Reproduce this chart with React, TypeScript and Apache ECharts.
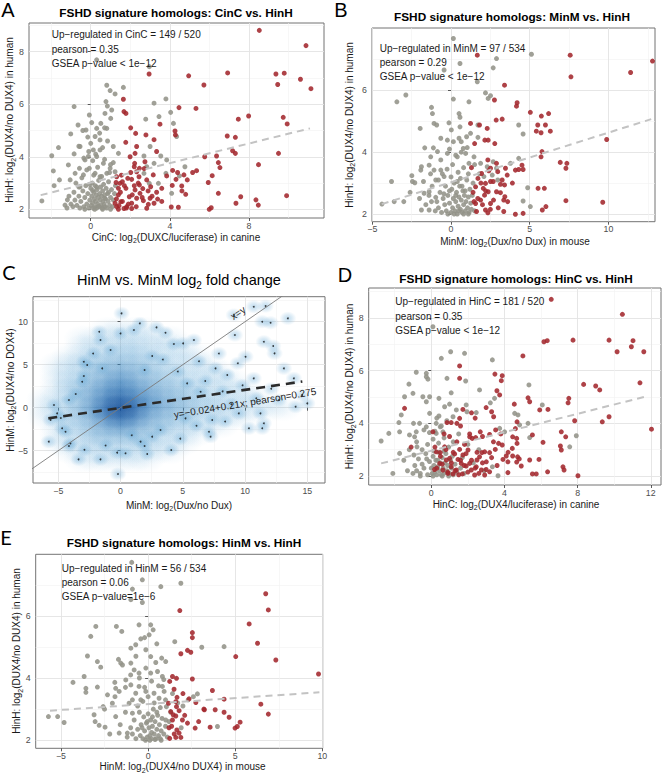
import React, { useEffect, useRef } from 'react';
import * as echarts from 'echarts';

// ---------------- Panel A: CinC vs HinH ----------------
const aGray: number[][] = [
  [-2.47,2.32],[-1.97,4.04],[-1.89,3.46],[-1.63,4.35],[-1.85,2.9],[-1.58,3.12],[-1.3,2.16],[-1.18,2.36],[-0.84,5.91],[-1.01,4.87],
  [-0.64,5.21],[-0.54,4.39],[-0.84,4.11],[-1.13,3.69],[-0.79,3.37],[-1.04,3.12],[-0.54,2.86],[-0.57,3.56],[-0.29,3.88],[-0.24,5.02],
  [-0.07,5.59],[0,4.51],[0.3,5.08],[0.47,4.64],[0.47,4.26],[0.51,5.27],[0.81,6.72],[1.23,6.39],[1.65,6.64],[0.98,6.52],[0.3,7.69],
  [0.77,6.1],[0.84,5.93],[1.06,5.78],[1.01,5.46],[0.72,5.65],[0.81,5.08],[0.22,4.77],[0.13,4.26],[-0.12,4.01],[0.3,4.01],[1.14,4.39],
  [1.4,4.13],[1.14,3.78],[0.64,3.75],[0.98,3.56],[-0.37,3.31],[-0.07,3.56],[0.22,3.37],[0.47,3.24],[0.81,3.37],[1.23,3.43],[3.8,6.2],
  [4.04,5.69],[4.18,5.27],[4.34,4.77],[3.45,5.53],[3.2,6.04],[3.0,4.39],[2.69,4.03],[3.54,4.03],[3.2,3.75],[3.84,3.88],[4.76,3.62],
  [4.48,3.27],[3.8,3.37],[3.42,2.99],[4.09,2.61],[2.96,2.99],[2.83,3.62],[2.69,3.37],[2.78,5.43],[2.96,7.43],
  [-1.2,2.05],[-1.0,2.2],[-0.9,2.1],[-0.8,2.35],[-0.7,2.15],[-0.6,2.5],[-0.55,2.05],[-0.5,2.3],[-0.4,2.7],[-0.35,2.1],[-0.3,2.45],
  [-0.25,2.9],[-0.2,2.2],[-0.15,2.6],[-0.1,2.05],[-0.05,2.35],[0,2.8],[0.02,2.15],[0.05,2.5],[0.08,3.0],[0.1,2.25],[0.12,2.05],
  [0.15,2.65],[0.18,2.4],[0.2,2.1],[0.22,2.9],[0.25,2.3],[0.28,2.55],[0.3,2.05],[0.32,2.75],[0.35,2.2],[0.38,2.45],[0.4,3.1],
  [0.42,2.1],[0.45,2.6],[0.48,2.35],[0.5,2.85],[0.52,2.15],[0.55,2.5],[0.58,2.05],[0.6,2.7],[0.62,2.3],[0.65,2.95],[0.68,2.2],
  [0.7,2.55],[0.72,2.1],[0.75,2.4],[0.78,2.8],[0.8,2.05],[0.85,2.6],[0.88,2.3],[0.9,3.05],[0.95,2.15],[1.0,2.45],[1.05,2.75],
  [1.1,2.1],[1.15,2.35],[1.2,2.6],[1.25,2.9],[-0.45,3.2],[-0.6,2.85],[-0.85,2.65],[-1.1,2.5],[-0.75,3.0],[0.15,3.3],[0.55,3.25],
  [0.95,3.4],[-0.2,3.5],[0.35,3.6],[0.7,3.9],[-0.1,4.2],[0.1,3.85],[0.6,4.35],[-0.35,3.95],[1.0,3.7],[0.25,4.1],[-0.6,4.4],
  [0.85,4.6],[0.45,4.9],[-0.15,4.75],[0.05,5.3],[0.7,5.1],[-0.4,5.0],[0.2,2.0],[0.6,2.0],[-0.3,2.0],[1.0,2.0],[0.4,2.12],
  [0.7,2.42],[0.1,2.72],[-0.05,2.95],[0.9,2.65],[0.3,2.85]
];
const aRed: number[][] = [
  [8.52,8.81],[10.88,8.23],[6.92,7.19],[4.95,7.08],[2.95,7.15],[5.72,6.73],[9.36,7.15],[9.78,7.18],[10.6,6.95],[11.13,6.59],
  [9.45,6.75],[1.65,6.19],[1.68,5.72],[1.78,5.65],[4.46,5.87],[5.32,5.84],[7.98,5.55],[7.46,5.43],[9.73,5.5],[9.93,5.25],
  [2.02,5.1],[3.5,5.24],[2.27,4.89],[2.79,4.83],[4.26,4.98],[4.28,4.83],[1.77,4.55],[3.2,4.65],[6.9,4.79],[7.31,4.74],
  [3.33,4.2],[2.32,4.39],[7.17,4.23],[7.31,4.13],[9.49,4.13],[5.76,4.0],[6.36,4.03],[1.99,4.0],[6.45,3.78],[2.22,3.75],
  [2.2,3.62],[2.74,3.81],[2.46,3.56],[8.48,3.7],[6.53,3.59],[4.14,3.48],[5.35,3.47],[5.15,3.4],[4.39,3.4],[1.31,3.24],
  [2.02,3.4],[1.28,3.02],[1.48,2.99],[2.07,3.14],[2.44,3.24],[2.83,3.12],[3.16,3.31],[3.84,3.27],[4.31,3.14],[4.71,3.31],
  [4.88,3.12],[5.94,3.02],[6.14,3.28],[4.12,2.91],[4.6,2.89],[4.61,2.7],[4.8,2.57],[3.59,2.8],[2.63,2.79],[3.33,2.65],
  [6.45,2.61],[7.58,2.48],[9.9,2.52],[6.09,2.06],[5.99,2.0],[7.34,2.23],[8.35,2.36],[8.47,2.16],[4.07,2.09],[4.43,2.08],
  [3.38,2.39],[3.59,2.3],[2.66,2.33],[2.91,2.19],[2.32,2.42],[2.07,2.23],[1.82,2.1],[1.52,2.29],[1.43,2.14],[1.68,2.03],
  [1.95,2.48],[2.24,2.74],[2.49,2.61],[1.4,2.55],[1.78,2.8],[2.46,2.93],[3.0,2.42],[3.2,2.23],[1.4,2.8],[1.6,3.05],
  [1.87,3.18],[2.24,4.13],[2.32,3.43],[3.03,2.86],[2.07,2.03],[2.83,2.04],[1.23,2.23],[1.31,2.1],
  [1.3,2.4],[1.5,2.65],[1.6,2.3],[1.7,2.9],[1.9,2.2],[2.1,2.55],[2.3,2.1],[2.6,2.45],[2.4,3.0],[2.9,2.7],[1.4,2.0],
  [1.8,2.05],[2.2,2.9],[3.1,2.5],[1.55,3.3],[2.7,3.55]
];
const aFit: number[][] = [[-2.53, 2.54], [11.08, 5.08]];
const aXTicks = [0, 4, 8];
const aXMinor = [-2, 2, 6, 10];
const aYTicks = [2, 4, 6, 8];
const aYMinor = [3, 5, 7, 9];
const aNotes = ['Up\u2212regulated in CinC = 149 / 520', 'pearson = 0.35', 'GSEA p\u2212value < 1e\u221212'];

// ---------------- Panel B: MinM vs HinH ----------------
const bGray: number[][] = [
  [-3.44,5.63],[-2.87,5.85],[-3.78,3.05],[-4.39,2.32],[-3.61,2.4],[-2.49,3.24],[-2.45,3.05],[-2.3,3.01],[-1.96,4.77],[-1.88,3.53],
  [-1.92,3.42],[-1.75,3.05],[-1.88,2.13],[-1.24,5.45],[-1.18,5.25],[-1.67,4.14],[-1.08,4.93],[-0.91,4.88],[-1.12,4.14],[-0.65,4.45],
  [-0.44,6.66],[0.15,7.68],[0.57,6.87],[0.15,5.72],[-0.13,4.95],[1.14,5.63],[0.51,5.25],[0.57,5.13],[0.57,4.82],[0.02,4.72],
  [0.15,4.34],[-0.23,4.39],[0.65,4.34],[0.51,4.45],[0.78,4.12],[0.99,4.5],[1.03,4.15],[1.24,4.61],[1.71,4.48],[1.71,4.88],
  [2.19,5.92],[2.36,5.74],[2.51,5.83],[2.89,7.03],[2.68,6.73],[5.11,7.17],[1.67,6.28],[4.3,4.88],[4.58,4.59],[4.3,3.8],
  [3.78,3.64],[4.87,2.85],[4.58,2.42],[5.04,2.24],[2.3,3.53],[2.68,3.69],[2.89,3.48],[2.97,3.1],[2.62,3.26],[2.09,3.21],
  [1.88,3.64],[1.46,3.85],[1.14,3.64],[0.93,3.96],[0.4,3.85],[-0.23,3.96],[-0.65,3.75],[-0.86,4.02],[-1.29,3.85],[-1.39,3.58],
  [-1.08,3.42],[-0.65,3.42],[-0.97,3.1],[-0.44,3.21],[-1.71,2.67],[-1.39,2.72],[-1.24,2.4],[-0.97,2.54],[-1.39,2.13],
  [-1.0,2.1],[-0.9,2.4],[-0.8,2.2],[-0.7,2.7],[-0.6,2.05],[-0.5,2.5],[-0.4,2.3],[-0.35,2.9],[-0.3,2.1],[-0.2,2.6],[-0.1,2.35],
  [0,2.05],[0.05,2.8],[0.1,2.2],[0.15,2.5],[0.2,3.0],[0.25,2.1],[0.3,2.4],[0.35,2.7],[0.4,2.0],[0.45,2.25],[0.5,2.55],
  [0.55,2.9],[0.6,2.15],[0.65,2.45],[0.7,2.05],[0.75,2.75],[0.8,2.3],[0.85,2.6],[0.9,2.1],[0.95,2.4],[1.0,3.1],[1.05,2.2],
  [1.1,2.55],[1.15,2.05],[1.2,2.8],[1.25,2.35],[1.3,2.15],[-0.55,3.3],[-0.25,3.45],[0.1,3.6],[0.45,3.35],[0.8,3.5],[1.1,3.3],
  [-0.8,3.1],[-1.2,2.9],[0.3,3.9],[-0.1,4.1],[0.65,4.0],[0.0,3.2],[0.6,3.15],[0.2,2.0],[0.8,2.0],[-0.2,2.0],[1.1,2.0],
  [0.5,2.1],[0.3,2.6],[0.7,2.9],[-0.1,2.75],[0.9,2.75],[0.4,3.05],[-0.45,2.65],[1.35,2.6],[1.4,3.0],[-1.4,2.6],[-1.6,2.3],
  [-2.0,2.5],[-2.6,2.7],[-3.0,2.4],[-1.3,3.3],[1.5,3.6],[1.8,3.3],[1.5,2.1]
];
const bRed: number[][] = [
  [7.57,7.14],[12.8,6.95],[11.41,6.58],[7.62,6.44],[1.67,7.14],[3.4,6.17],[4.2,5.6],[4.16,5.49],[2.76,5.69],[6.2,5.25],
  [5.74,5.17],[5.04,5.29],[5.51,4.88],[5.42,4.68],[5.72,4.63],[6.31,4.68],[6.0,4.88],[3.25,5.07],[2.87,5.04],[2.3,4.77],
  [2.15,4.39],[2.36,4.39],[1.5,4.28],[1.24,4.93],[1.81,4.88],[2.78,4.28],[2.34,3.75],[2.89,3.64],[2.51,3.48],[3.46,3.48],
  [3.57,3.26],[4.09,3.42],[4.3,3.44],[4.58,3.44],[4.51,3.58],[3.25,3.1],[3.4,2.94],[2.68,3.05],[2.19,2.99],[2.05,2.83],
  [2.36,2.72],[2.89,2.72],[3.14,2.69],[2.13,2.61],[1.71,3.15],[1.56,2.88],[1.46,2.4],[1.56,2.34],[1.62,2.08],[2.19,2.13],
  [2.34,2.04],[3.35,2.45],[3.42,2.56],[3.35,2.08],[4.09,1.99],[4.58,2.02],[5.8,2.13],[6.03,2.24],[5.53,2.83],[5.93,2.83],
  [7.3,2.43],[9.64,2.38],[9.89,4.41],[6.94,3.67],[7.36,3.64],[7.3,3.48],[5.78,4.02],[5.72,3.85],[1.94,3.31],[2.97,3.37],
  [3.14,2.96],[2.51,2.34],[1.88,2.45],[2.51,3.05],
  [1.4,2.7],[1.7,2.5],[2.0,2.3],[2.2,2.75],[2.5,2.15],[2.7,2.45],[3.0,2.2],[1.9,3.0],[2.4,3.4],[3.6,2.4],[1.3,3.5],[3.9,3.0]
];
const bFit: number[][] = [[-4.4, 2.32], [12.72, 5.07]];
const bXTicks = [-5, 0, 5, 10];
const bXMinor = [-2.5, 2.5, 7.5, 12.5];
const bYTicks = [2, 4, 6];
const bYMinor = [3, 5, 7];
const bNotes = ['Up\u2212regulated in MinM = 97 / 534', 'pearson = 0.29', 'GSEA p\u2212value < 1e\u221212'];

// ---------------- Panel C: HinM vs MinM (smoothed density) ----------------
// density level (0-9) on a 1-unit lattice, columns x = -6 .. 15, rows y = 11 .. -7
const cDensityXStart = -6;
const cDensityYTop = 11;
const cDensityRows: string[] = [
  '0000000000000000000000',
  '0000000000000000000000',
  '0000011110000000000000',
  '0001111111100000000000',
  '0001112211110000000000',
  '0011222221111000000000',
  '0112233322111100000000',
  '0112334332211110000000',
  '0122345433221111000000',
  '0123456543322111100000',
  '1123467654332211110000',
  '1123579754332221111100',
  '1123467643322111100000',
  '0122345433221110000000',
  '0112333322111000000000',
  '0111222221110000000000',
  '0011111111100000000000',
  '0001111110000000000000',
  '0000000000000000000000'
];
const cOutliers: number[][] = [
  [0.08,10.97],[1.55,9.81],[-1.71,8.84],[0.0,8.64],[1.07,9.03],[2.89,9.34],[3.61,8.72],[5.03,7.48],[4.28,7.4],[5.89,7.87],
  [9.1,10.78],[10.7,11.74],[11.65,11.82],[11.38,10.0],[12.05,9.88],[13.44,10.39],[9.18,8.45],[11.51,7.67],[12.26,7.17],[12.37,6.32],
  [10.04,5.93],[9.42,5.16],[7.63,4.57],[8.57,3.8],[10.7,3.41],[13.12,4.57],[13.92,3.41],[14.59,1.47],[15.0,0.5],[14.06,0.12],
  [12.72,0.89],[11.24,-0.66],[10.31,-2.4],[11.38,-2.4],[11.51,-1.82],[9.5,-0.66],[7.23,-3.37],[7.1,-2.79],[4.07,-4.92],[1.93,-4.46],
  [2.14,-5.39],[0.4,-5.31],[-0.27,-5.23],[-0.21,-7.71],[-1.61,-6.01],[-3.37,-6.01],[-4.02,-4.15],[-4.15,-4.46],[-5.76,-3.95],[-4.69,-2.4],
  [-5.62,-1.43],[-5.35,0.31],[-4.15,0.89],[-3.08,3.02],[-2.95,5.35],[-2.68,4.96],[-2.95,3.68],[-1.47,4.57],[-0.8,6.71],[-1.61,7.87],
  [2.54,6.01],[1.93,4.38],[5.35,2.83],[6.43,1.86],[7.36,-1.43],[5.22,-1.24],[3.21,-2.6],[2.54,-3.37],[1.61,-3.95],[-4.42,-2.79],
  [-5.09,-0.66],[8.2,1.9],[9.8,2.6],[10.9,1.1],[12.1,2.2],[8.9,0.4],[6.8,3.1],[7.9,6.3],[6.3,5.4],[4.6,4.2],
  [3.4,5.6],[-2.2,6.3],[-3.6,1.6],[-4.8,-1.2],[-2.9,-4.9],[-1.2,-4.4],[0.9,-3.2],[4.8,-3.6],[6.1,-2.1],[8.4,-1.6]
];
const cFit: number[][] = [[-5.8, -1.24], [14.6, 3.04]];
const cIdentity: number[][] = [[-9, -9], [14, 14]];
const cXTicks = [-5, 0, 5, 10, 15];
const cXMinor = [-2.5, 2.5, 7.5, 12.5];
const cYTicks = [-5, 0, 5, 10];
const cYMinor = [-7.5, -2.5, 2.5, 7.5, 12.5];

// ---------------- Panel D: HinC vs HinH ----------------
const dGray: number[][] = [
  [-2.74,3.33],[-2.32,3.62],[-2.1,2.1],[-1.73,3.68],[-1.77,4.03],[-1.64,4.32],[-1.73,2.86],[-1.46,5.01],[-1.22,5.49],[-1.0,5.14],
  [-0.82,5.94],[-0.78,3.11],[-1.19,3.56],[-0.91,3.49],[-0.82,3.68],[-0.46,5.01],[-0.27,4.82],[-0.27,5.77],[-0.27,5.9],[-0.18,5.68],
  [0.09,7.67],[0.55,6.47],[1.06,6.72],[1.82,6.66],[0.86,5.71],[1.09,5.16],[1.88,5.61],[0.42,4.95],[-0.09,5.01],[0.73,4.63],
  [1.0,4.73],[1.91,4.7],[1.95,4.44],[2.46,4.41],[1.37,4.51],[1.19,4.25],[0.42,4.28],[-0.09,4.38],[0.27,4.0],[0.49,3.87],
  [0.64,3.68],[0.27,3.62],[-0.27,3.87],[-0.64,4.0],[-0.97,4.0],[3.34,6.41],[2.64,5.27],[5.34,5.46],[6.07,4.7],[4.56,4.38],
  [4.74,4.32],[5.29,4.0],[4.83,3.94],[3.74,3.81],[4.01,3.68],[3.23,4.78],[3.46,4.95],[7.93,3.53],[7.57,3.11],[5.38,3.46],
  [3.65,2.01],[3.34,2.35],
  [-1.0,2.1],[-0.9,2.4],[-0.8,2.2],[-0.7,2.65],[-0.6,2.1],[-0.5,2.45],[-0.4,2.3],[-0.3,2.85],[-0.2,2.05],[-0.1,2.55],[0,2.3],
  [0.05,2.1],[0.1,2.75],[0.15,2.4],[0.2,2.15],[0.25,2.6],[0.3,2.05],[0.35,2.35],[0.4,2.9],[0.45,2.2],[0.5,2.5],[0.55,2.05],
  [0.6,2.7],[0.65,2.3],[0.7,2.1],[0.75,2.5],[0.8,2.85],[0.85,2.2],[0.9,2.4],[1.0,2.1],[1.05,2.6],[1.1,2.3],[1.2,2.05],
  [1.3,2.45],[1.4,2.15],[1.6,2.3],[1.8,2.1],[-0.5,3.0],[-0.2,3.2],[0.1,3.4],[0.4,3.25],[0.7,3.45],[0.95,3.1],[-0.8,3.3],
  [-1.2,3.0],[-1.5,2.6],[-1.3,2.2],[0.2,3.7],[0.55,3.9],[-0.1,3.65],[0.85,4.1],[0.3,4.2],[-0.4,3.75],[1.2,3.3],[1.5,3.6],
  [1.7,2.7],[2.0,3.2],[2.3,2.5],[2.6,3.0],[2.9,2.2],[-0.6,2.0],[0.1,2.0],[0.6,2.0],[0.95,2.0],[-0.25,2.65],[0.35,2.6],
  [0.7,2.95],[0.15,2.95],[1.15,2.75],[-0.95,2.8]
];
const dRed: number[][] = [
  [6.56,8.71],[10.45,8.14],[6.16,7.1],[6.34,7.14],[7.75,7.16],[9.72,7.16],[11.03,7.14],[10.94,6.91],[10.16,6.72],[11.62,6.72],
  [5.01,6.56],[1.55,6.18],[1.55,5.71],[3.48,5.87],[3.88,5.81],[3.83,5.62],[8.33,5.48],[8.99,5.42],[9.21,5.27],[11.41,5.54],
  [3.59,5.24],[3.74,5.08],[5.29,4.97],[5.38,4.82],[7.52,4.95],[7.48,4.78],[4.54,4.73],[3.3,4.44],[3.41,4.25],[-1.46,4.57],
  [1.73,4.53],[0.86,4.03],[1.09,4.03],[1.55,4.19],[1.4,4.0],[6.38,4.53],[5.93,4.51],[7.84,4.1],[9.35,4.06],[9.72,4.25],
  [12.04,3.78],[4.69,4.06],[7.11,3.68],[7.35,3.49],[7.06,3.14],[7.11,2.99],[6.11,3.28],[5.53,3.56],[3.52,3.75],[3.19,3.58],
  [3.68,3.24],[3.88,3.18],[4.45,3.49],[4.67,3.43],[4.69,3.24],[4.43,3.05],[4.45,2.76],[4.72,2.73],[4.81,2.65],[4.67,2.53],
  [4.92,2.38],[4.1,2.76],[3.92,2.63],[4.19,2.54],[3.5,3.01],[3.19,2.89],[2.77,2.89],[2.92,2.92],[2.64,2.73],[2.5,2.61],
  [2.01,2.99],[2.24,3.43],[2.43,3.46],[2.1,3.49],[2.68,3.68],[1.82,3.2],[1.55,3.01],[1.28,2.84],[1.0,2.67],[0.49,2.89],
  [0.09,3.68],[0.27,2.92],[0.73,3.11],[0.82,2.61],[1.09,2.35],[1.37,2.23],[1.64,2.48],[1.91,2.38],[2.19,2.23],[2.46,2.35],
  [2.74,2.23],[3.01,2.54],[3.19,2.16],[4.19,2.13],[5.53,2.08],[5.74,2.08],[5.38,2.61],[5.89,2.63],[6.36,2.16],[7.2,2.35],
  [7.26,2.23],[8.02,2.01],[0.64,2.23],[1.19,2.08],[1.7,2.08],[0.46,2.48],[0.91,2.1],[0.18,2.25],[1.46,2.63],[1.73,2.8],
  [2.1,2.48],[2.37,2.04],[2.92,2.04],
  [0.3,2.3],[0.6,2.45],[0.9,2.15],[1.1,2.5],[1.3,2.2],[1.5,2.05],[1.6,2.6],[1.8,2.4],[2.0,2.15],[2.2,2.6],[2.4,2.3],
  [2.6,2.1],[2.8,2.5],[3.0,2.25],[3.3,2.7],[3.6,2.4],[1.2,2.9],[1.9,2.85],[2.5,2.9],[3.4,3.3],[0.5,2.75],[0.8,3.0],
  [1.4,3.3],[2.1,3.6],[2.8,3.5],[3.8,3.6],[4.2,2.9],[4.6,3.8],[1.0,3.5],[0.2,3.1],[0.7,3.6],[-1.1,3.1],[1.6,3.9],
  [2.4,4.2],[3.0,4.6],[2.2,4.4]
];
const dFit: number[][] = [[-2.74, 2.48], [11.85, 5.04]];
const dXTicks = [0, 4, 8, 12];
const dXMinor = [-2, 2, 6, 10];
const dYTicks = [2, 4, 6, 8];
const dYMinor = [3, 5, 7, 9];
const dNotes = ['Up\u2212regulated in HinC = 181 / 520', 'pearson = 0.35', 'GSEA p\u2212value < 1e\u221212'];

// ---------------- Panel E: HinM vs HinH ----------------
const eGray: number[][] = [
  [-5.72,2.76],[-5.19,2.76],[-4.82,2.57],[-4.31,3.86],[-3.67,4.05],[-3.57,3.67],[-3.57,3.54],[-3.48,4.71],[-3.29,5.34],[-3.0,5.66],
  [-2.91,4.53],[-2.72,4.35],[-2.91,3.71],[-3.1,2.82],[-3.04,2.6],[-2.81,2.48],[-2.47,2.42],[-2.58,3.08],[-2.33,3.46],[-1.82,5.66],
  [-1.51,5.5],[-1.7,4.6],[-1.57,4.48],[-1.47,4.42],[-1.91,3.86],[-1.86,3.67],[-1.66,3.57],[-2.05,3.19],[-1.86,2.76],[-1.66,2.23],
  [-1.19,2.23],[-0.94,7.72],[-0.33,7.16],[-0.9,6.86],[-0.99,6.52],[-0.33,6.43],[0.73,6.94],[1.88,7.05],[-0.52,5.71],[0.15,5.71],
  [0.29,5.55],[0.06,5.39],[-0.42,5.26],[-0.71,5.07],[-0.99,4.96],[-0.13,4.91],[0.15,4.69],[0.44,4.5],[0.78,4.64],[1.01,4.53],
  [1.53,5.17],[3.08,4.99],[4.36,5.01],[-0.99,4.48],[-0.8,4.26],[-0.52,4.16],[-0.13,4.32],[0.15,4.16],[0.54,4.21],[0.82,4.05],
  [-1.28,3.94],[-0.99,3.78],[-0.71,3.51],[-0.52,3.73],[-1.09,3.19],[-0.9,2.87],[-0.42,3.3],[-0.13,3.57],[0.34,3.51],[0.63,3.35],
  [0.92,3.57],[1.05,3.08],[0.82,3.73],[2.83,3.49],[3.98,2.44],[1.01,2.65],
  [-1.2,2.1],[-1.0,2.4],[-0.9,2.2],[-0.8,2.65],[-0.7,2.05],[-0.6,2.35],[-0.5,2.9],[-0.45,2.15],[-0.4,2.5],[-0.3,2.05],[-0.25,2.75],
  [-0.2,2.3],[-0.1,2.55],[-0.05,2.1],[0,2.85],[0.05,2.4],[0.1,2.15],[0.15,2.65],[0.2,2.05],[0.25,2.45],[0.3,3.0],[0.35,2.2],
  [0.4,2.6],[0.45,2.05],[0.5,2.35],[0.55,2.8],[0.6,2.15],[0.65,2.5],[0.7,2.05],[0.75,2.3],[0.8,2.7],[0.9,2.2],[1.0,2.45],
  [1.1,2.1],[-0.6,3.1],[-0.3,3.25],[0,3.4],[0.35,3.2],[0.7,3.05],[1.0,3.3],[-0.9,3.3],[-1.3,2.9],[-1.6,2.5],[-0.2,3.7],
  [0.2,3.9],[0.6,3.75],[-0.5,4.0],[0.9,3.95],[0.1,2.0],[-0.15,2.0],[0.4,2.02],[0.75,2.0],[0.2,2.25],[-0.35,2.4],[0.5,2.9],
  [0.25,2.75],[-0.05,2.6],[1.2,2.6],[1.3,2.9],[1.4,3.5],[1.7,3.2],[2.0,3.1],[2.3,3.3],[2.6,3.4],[1.9,2.4],[-2.2,2.2],
  [-2.5,3.0],[-1.9,3.4],[-1.3,3.7],[-1.0,4.1],[-0.7,4.7],[0.5,5.1],[-0.2,5.3]
];
const eRed: number[][] = [
  [6.75,6.71],[6.9,6.19],[1.82,6.17],[5.8,5.74],[2.54,5.46],[2.54,5.3],[6.28,5.12],[7.33,4.58],[9.78,4.13],[1.88,4.78],
  [2.26,4.89],[2.45,4.83],[5.03,4.69],[1.4,4.05],[1.63,3.99],[1.24,3.89],[1.49,3.64],[2.54,3.97],[3.69,3.6],[4.36,3.32],
  [1.17,3.19],[1.59,3.24],[1.63,3.08],[2.35,3.33],[2.74,3.21],[3.23,2.98],[3.85,2.98],[4.36,2.9],[4.65,2.74],[1.78,2.95],
  [1.3,2.92],[1.44,2.82],[1.59,2.78],[1.97,2.65],[2.26,2.55],[1.4,2.65],[1.65,2.33],[1.78,2.23],[1.88,2.09],[1.59,2.09],
  [1.24,2.06],[2.7,2.39],[3.56,2.42],[4.99,2.39],[5.12,2.44],[5.28,2.58],[6.47,3.16],[6.9,2.84],[1.66,3.38],[1.35,2.45],
  [2.1,2.8],[1.5,2.2],[2.9,2.6],[3.2,3.0],[1.2,2.4],[2.0,3.5]
];
const eFit: number[][] = [[-5.63, 2.95], [9.83, 3.54]];
const eXTicks = [-5, 0, 5, 10];
const eXMinor = [-2.5, 2.5, 7.5];
const eYTicks = [2, 4, 6];
const eYMinor = [3, 5, 7];
const eNotes = ['Up\u2212regulated in HinM = 56 / 534', 'pearson = 0.06', 'GSEA p\u2212value=1e\u22126'];

// ---------------- styling / layout ----------------
const FONT = '"Liberation Sans", Arial, Helvetica, sans-serif';
const GRAY = '#939389';
const RED = '#a3282d';
// blob colour per density level (light levels more cyan, core darker)
const BLOB_RGB = ['', '80,158,210', '70,150,205', '60,138,195', '45,122,187', '33,113,181', '25,100,172', '16,86,162', '10,76,154', '8,69,148'];

type Panel = { box: number[]; xr: number[]; yr: number[]; xMaj: number[]; xMin: number[]; yMaj: number[]; yMin: number[] };
const panels: Panel[] = [
  { box: [29, 23, 324, 218], xr: [-3.12, 11.79], yr: [1.67, 9.09], xMaj: aXTicks, xMin: aXMinor, yMaj: aYTicks, yMin: aYMinor },
  { box: [372, 28, 655, 221.7], xr: [-5.02, 12.96], yr: [1.75, 8.02], xMaj: bXTicks, xMin: bXMinor, yMaj: bYTicks, yMin: bYMinor },
  { box: [33, 296.7, 325, 483], xr: [-7.03, 16.42], yr: [-8.76, 12.91], xMaj: cXTicks, xMin: cXMinor, yMaj: cYTicks, yMin: cYMinor },
  { box: [368.7, 288, 661, 485], xr: [-3.42, 12.56], yr: [1.66, 9.14], xMaj: dXTicks, xMin: dXMinor, yMaj: dYTicks, yMin: dYMinor },
  { box: [35.7, 554.3, 322.7, 748.3], xr: [-6.45, 10.02], yr: [1.74, 7.98], xMaj: eXTicks, xMin: eXMinor, yMaj: eYTicks, yMin: eYMinor },
];

const fmt = (v: number) => String(v).replace('-', '\u2212');

function majorAxis(gi: number, r: number[], ticks: number[], dim: 'x' | 'y') {
  return {
    type: 'value', gridIndex: gi, min: r[0], max: r[1],
    position: dim === 'x' ? 'bottom' : 'left',
    axisLine: { show: false },
    axisTick: { show: true, length: 3, lineStyle: { color: '#333', width: 0.8 }, customValues: ticks },
    axisLabel: { show: true, customValues: ticks, fontSize: 8.8, color: '#4d4d4d', fontFamily: FONT, margin: dim === 'x' ? 3 : 5, formatter: fmt },
    splitLine: { show: true, lineStyle: { color: '#e3e3e3', width: 0.9 } },
    minorTick: { show: false }, minorSplitLine: { show: false },
  };
}
function minorAxis(gi: number, r: number[], ticks: number[], dim: 'x' | 'y') {
  return {
    type: 'value', gridIndex: gi, min: r[0], max: r[1],
    position: dim === 'x' ? 'top' : 'right',
    axisLine: { show: false },
    axisTick: { show: false, customValues: ticks },
    axisLabel: { show: false, customValues: ticks },
    splitLine: { show: true, lineStyle: { color: '#f1f1f1', width: 0.6 } },
  };
}

function subText(pre: string, post: string, size: number, weight: string, color: string) {
  const base = { fontSize: size, fontFamily: FONT, fontWeight: weight, fill: color, lineHeight: Math.round(size * 1.35) };
  return {
    text: `{a|${pre}}{s|2}{a|${post}}`,
    rich: {
      a: base,
      s: { fontSize: Math.round(size * 0.72), fontFamily: FONT, fill: color, lineHeight: Math.round(size * 0.8), verticalAlign: 'bottom' },
    },
  };
}

function radial(rgb: string, a: number) {
  return {
    type: 'radial', x: 0.5, y: 0.5, r: 0.5,
    colorStops: [
      { offset: 0, color: `rgba(${rgb},${a})` },
      { offset: 0.45, color: `rgba(${rgb},${(a * 0.6).toFixed(3)})` },
      { offset: 1, color: `rgba(${rgb},0)` },
    ],
  };
}

function buildOption() {
  const grid = panels.map((p) => ({
    left: p.box[0], top: p.box[1], width: p.box[2] - p.box[0], height: p.box[3] - p.box[1],
    show: true, backgroundColor: '#ffffff', borderColor: '#737373', borderWidth: 1, containLabel: false,
  }));
  const xAxis: any[] = [];
  const yAxis: any[] = [];
  panels.forEach((p, i) => {
    xAxis.push(majorAxis(i, p.xr, p.xMaj, 'x'));
    xAxis.push(minorAxis(i, p.xr, p.xMin, 'x'));
    yAxis.push(majorAxis(i, p.yr, p.yMaj, 'y'));
    yAxis.push(minorAxis(i, p.yr, p.yMin, 'y'));
  });

  const series: any[] = [];
  const scatterPanel = (i: number, gray: number[][], red: number[][], fit: number[][]) => {
    const ax = { xAxisIndex: 2 * i, yAxisIndex: 2 * i, silent: true };
    series.push({ type: 'scatter', ...ax, data: gray, symbolSize: 5, itemStyle: { color: GRAY, opacity: 0.88 } });
    series.push({ type: 'scatter', ...ax, data: red, symbolSize: 5, itemStyle: { color: RED, opacity: 0.88 } });
    series.push({ type: 'line', ...ax, data: fit, symbol: 'none', lineStyle: { color: '#c3c3c3', width: 2, type: [7, 5] }, z: 3 });
  };
  scatterPanel(0, aGray, aRed, aFit);
  scatterPanel(1, bGray, bRed, bFit);
  scatterPanel(3, dGray, dRed, dFit);
  scatterPanel(4, eGray, eRed, eFit);

  // panel C density, drawn as soft overlapping blobs
  const dens: any[] = [];
  cDensityRows.forEach((row, r) => {
    for (let c = 0; c < row.length; c++) {
      const d = +row[c];
      if (d > 0) {
        const a = Math.min(0.8, 0.05 + 0.08 * d);
        dens.push({ value: [cDensityXStart + c, cDensityYTop - r, d], itemStyle: { color: radial(BLOB_RGB[d], +a.toFixed(3)) } });
      }
    }
  });
  dens.sort((p, q) => p.value[2] - q.value[2]);
  const axC = { xAxisIndex: 4, yAxisIndex: 4, silent: true };
  series.push({ type: 'scatter', ...axC, data: dens, symbol: 'rect', symbolSize: [40, 28] });
  series.push({ type: 'scatter', ...axC, data: cOutliers, symbol: 'rect', symbolSize: [17, 14], itemStyle: { color: radial('95,165,212', 0.5) } });
  series.push({ type: 'scatter', ...axC, data: cOutliers, symbolSize: 1.8, itemStyle: { color: '#111' } });
  series.push({ type: 'line', ...axC, data: cIdentity, symbol: 'none', lineStyle: { color: '#7a7a7a', width: 0.9 }, z: 3 });
  series.push({ type: 'line', ...axC, data: cFit, symbol: 'none', lineStyle: { color: '#2b2b2b', width: 2.6, type: [9, 6] }, z: 4 });

  const graphic: any[] = [];
  const txt = (x: number, y: number, text: string, size: number, opts: any = {}) => {
    graphic.push({
      type: 'text', x, y, rotation: opts.rotation || 0, silent: true, z: 100,
      style: {
        text, fontSize: size, fontFamily: opts.font || FONT, fontWeight: opts.weight || 'normal',
        fill: opts.color || '#000', align: opts.align || 'center', verticalAlign: 'middle',
      },
    });
  };
  const richTxt = (x: number, y: number, pre: string, post: string, size: number, opts: any = {}) => {
    const r = subText(pre, post, size, opts.weight || 'normal', opts.color || '#000');
    graphic.push({
      type: 'text', x, y, rotation: opts.rotation || 0, silent: true, z: 100,
      style: { text: r.text, rich: r.rich, align: 'center', verticalAlign: 'middle' },
    });
  };

  // panel letters
  txt(8, 10, 'A', 20);
  txt(341, 10, 'B', 20);
  txt(9, 272, 'C', 20, { font: 'Lato, "Open Sans", sans-serif' });
  txt(345, 275, 'D', 20);
  txt(6, 537, 'E', 20, { font: 'Lato, "Open Sans", sans-serif' });

  // titles
  txt(176, 13, 'FSHD signature homologs: CinC vs. HinH', 11.8, { weight: 'bold' });
  txt(512, 17, 'FSHD signature homologs: MinM vs. HinH', 11.8, { weight: 'bold' });
  txt(516, 279, 'FSHD signature homologs: HinC vs. HinH', 11.8, { weight: 'bold' });
  txt(184, 543, 'FSHD signature homologs: HinM vs. HinH', 11.8, { weight: 'bold' });
  richTxt(179, 280, 'HinM vs. MinM log', ' fold change', 14.5);

  // annotations
  const notes = (x: number, ys: number[], lines: string[]) => lines.forEach((l, k) => txt(x, ys[k], l, 10, { align: 'left', color: '#1a1a1a' }));
  notes(51.7, [34.3, 49.3, 63.3], aNotes);
  notes(379.7, [48.3, 62.3, 76.7], bNotes);
  notes(395.3, [301.7, 316, 330], dNotes);
  notes(61.7, [568.3, 582.7, 596.7], eNotes);

  // x-axis titles
  richTxt(176, 237.3, 'CinC: log', '(DUXC/luciferase) in canine', 10, { color: '#1a1a1a' });
  richTxt(515, 241, 'MinM: log', '(Dux/no Dux) in mouse', 10, { color: '#1a1a1a' });
  richTxt(179, 505, 'MinM: log', '(Dux/no Dux)', 10, { color: '#1a1a1a' });
  richTxt(516, 504, 'HinC: log', '(DUX4/luciferase) in canine', 10, { color: '#1a1a1a' });
  richTxt(182.5, 766.5, 'HinM: log', '(DUX4/no DUX4) in mouse', 10, { color: '#1a1a1a' });

  // y-axis titles
  const R90 = Math.PI / 2;
  richTxt(9.5, 120, 'HinH: log', '(DUX4/no DUX4) in human', 10, { rotation: R90, color: '#1a1a1a' });
  richTxt(349, 125, 'HinH: log', '(DUX4/no DUX4) in human', 10, { rotation: R90, color: '#1a1a1a' });
  richTxt(10, 390, 'HinM: log', '(DUX4/no DOX4)', 10, { rotation: R90, color: '#1a1a1a' });
  richTxt(349.5, 386.5, 'HinH: log', '(DUX4/no DUX4) in human', 10, { rotation: R90, color: '#1a1a1a' });
  richTxt(16.5, 651, 'HinH: log', '(DUX4/no DUX4) in human', 10, { rotation: R90, color: '#1a1a1a' });

  // panel C line labels
  txt(238, 313, 'x=y', 10, { rotation: 0.6, color: '#222' });
  txt(245, 403, 'y=\u22120.024+0.21x; pearson=0.275', 10, { rotation: 0.165, color: '#222' });

  return {
    animation: false,
    backgroundColor: '#ffffff',
    grid, xAxis, yAxis, series, graphic,
  };
}

export default function App() {
  const ref = useRef<HTMLDivElement>(null);
  useEffect(() => {
    if (!ref.current) return;
    const chart = echarts.init(ref.current, undefined, { renderer: 'svg' });
    chart.setOption(buildOption() as any);
    return () => chart.dispose();
  }, []);
  return <div ref={ref} style={{ position: 'absolute', left: 0, top: 0, width: 666, height: 775, background: '#fff' }} />;
}
